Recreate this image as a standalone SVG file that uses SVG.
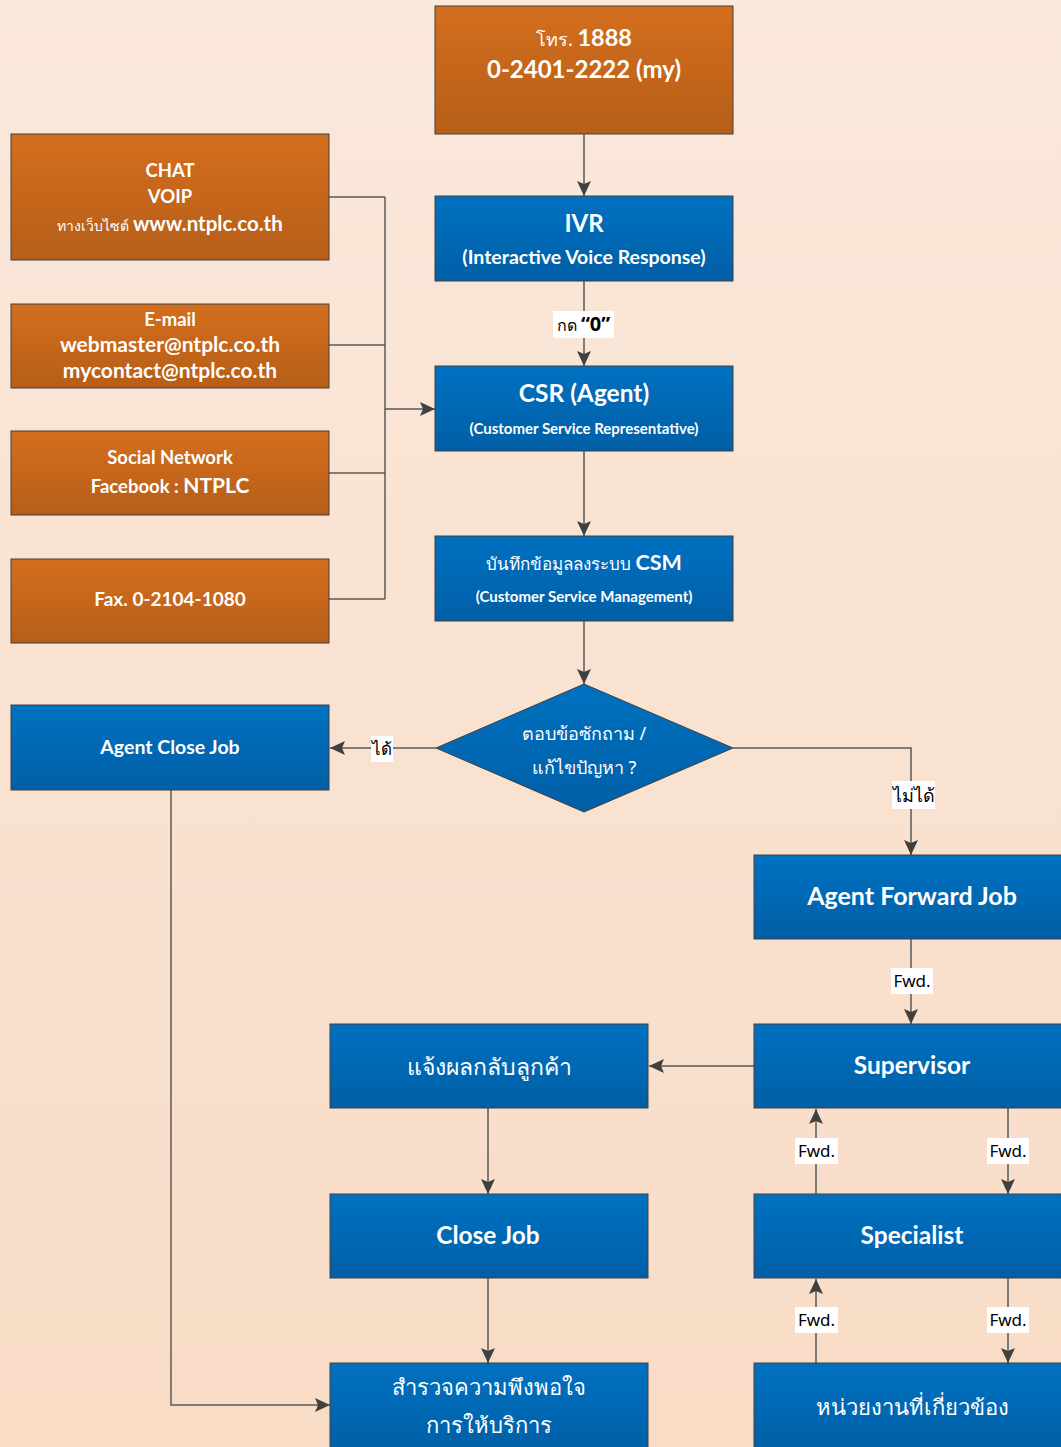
<svg xmlns="http://www.w3.org/2000/svg" width="1061" height="1447" viewBox="0 0 1061 1447">
<defs>
<linearGradient id="bg" x1="0" y1="0" x2="0" y2="1">
<stop offset="0" stop-color="#FAE8DB"/>
<stop offset="1" stop-color="#F8DCC6"/>
</linearGradient>
<linearGradient id="org" x1="0" y1="0" x2="0" y2="1">
<stop offset="0" stop-color="#D46E1E"/>
<stop offset="1" stop-color="#B65E18"/>
</linearGradient>
<linearGradient id="blu" x1="0" y1="0" x2="0" y2="1">
<stop offset="0" stop-color="#0071C1"/>
<stop offset="1" stop-color="#005FA6"/>
</linearGradient>
<marker id="arr" markerWidth="15" markerHeight="15" viewBox="0 0 15 15" refX="15" refY="7.5" orient="auto" markerUnits="userSpaceOnUse">
<path d="M0,0.5 L15,7.5 L0,14.5 L3,7.5 Z" fill="#404040"/>
</marker>
<style>
.o{fill:url(#org);stroke:#404040;stroke-width:1}
.b{fill:url(#blu);stroke:#404040;stroke-width:1}
.t{fill:#fff;font-family:Lato,"Noto Sans","Liberation Sans",sans-serif;text-anchor:middle;font-weight:bold}
.th{fill:#fff;font-family:"Noto Sans","Liberation Sans",sans-serif;text-anchor:middle;font-weight:normal}
.c{fill:none;stroke:#595959;stroke-width:1.5}
.ca{fill:none;stroke:#595959;stroke-width:1.5;marker-end:url(#arr)}
.lb{fill:#fff}
.lt{fill:#000;font-family:"Noto Sans","Liberation Sans",sans-serif;text-anchor:middle}
</style>
</defs>
<rect width="1061" height="1447" fill="url(#bg)"/>

<g id="connectors">
<path class="ca" d="M584,134 V196"/>
<path class="ca" d="M584,281 V366"/>
<path class="c" d="M329,197 H385 M329,345 H385 M329,473 H385 M329,599 H385 M385,197 V599"/>
<path class="ca" d="M385,409 H435"/>
<path class="ca" d="M584,451 V536"/>
<path class="ca" d="M584,621 V684"/>
<path class="ca" d="M436,748 H330"/>
<path class="ca" d="M733,748 H911 V855"/>
<path class="ca" d="M911,939 V1024"/>
<path class="ca" d="M754,1066 H649"/>
<path class="ca" d="M488,1108 V1194"/>
<path class="ca" d="M488,1278 V1363"/>
<path class="ca" d="M171,790 V1405 H330"/>
<path class="ca" d="M816,1194 V1109"/>
<path class="ca" d="M1008,1108 V1194"/>
<path class="ca" d="M816,1363 V1279"/>
<path class="ca" d="M1008,1278 V1363"/>

<rect class="lb" x="553" y="311" width="61" height="27"/>
<text class="lt" x="583.5" y="331" font-size="17"><tspan font-size="16">กด </tspan><tspan font-weight="bold" font-size="20">“0”</tspan></text>
<rect class="lb" x="371" y="736" width="22" height="26"/>
<text class="lt" x="382" y="755" font-size="17">ได้</text>
<rect class="lb" x="892" y="781" width="43" height="28"/>
<text class="lt" x="913.5" y="802" font-size="18">ไม่ได้</text>
<rect class="lb" x="891" y="968" width="42" height="26"/>
<text class="lt" x="912" y="987" font-size="17">Fwd.</text>
<rect class="lb" x="795" y="1138" width="43" height="26"/>
<text class="lt" x="816.5" y="1157" font-size="17">Fwd.</text>
<rect class="lb" x="987" y="1138" width="42" height="26"/>
<text class="lt" x="1008" y="1157" font-size="17">Fwd.</text>
<rect class="lb" x="795" y="1307" width="43" height="26"/>
<text class="lt" x="816.5" y="1326" font-size="17">Fwd.</text>
<rect class="lb" x="987" y="1307" width="42" height="26"/>
<text class="lt" x="1008" y="1326" font-size="17">Fwd.</text>
</g>

<g id="phone">
<rect class="o" x="435" y="6" width="298" height="128"/>
<text class="t" x="584" y="46" font-size="23.5"><tspan class="th" font-size="18" font-weight="normal">โทร.  </tspan><tspan>1888</tspan></text>
<text class="t" x="584" y="78" font-size="24">0-2401-2222 (my)</text>
</g>

<g id="chat">
<rect class="o" x="11" y="134" width="318" height="126"/>
<text class="t" x="170" y="177" font-size="18.5">CHAT</text>
<text class="t" x="170" y="203" font-size="18.5">VOIP</text>
<text class="t" x="170" y="231" font-size="20.5"><tspan font-weight="normal" font-size="14" font-family="'Noto Sans',sans-serif">ทางเว็บไซต์ </tspan><tspan>www.ntplc.co.th</tspan></text>
</g>

<g id="email">
<rect class="o" x="11" y="304" width="318" height="84"/>
<text class="t" x="170" y="326" font-size="18.5">E-mail</text>
<text class="t" x="170" y="352" font-size="21">webmaster@ntplc.co.th</text>
<text class="t" x="170" y="378" font-size="21">mycontact@ntplc.co.th</text>
</g>

<g id="social">
<rect class="o" x="11" y="431" width="318" height="84"/>
<text class="t" x="170" y="464" font-size="18.5">Social Network</text>
<text class="t" x="170" y="493" font-size="18.5">Facebook : <tspan font-size="21">NTPLC</tspan></text>
</g>

<g id="fax">
<rect class="o" x="11" y="559" width="318" height="84"/>
<text class="t" x="170" y="606" font-size="19">Fax. 0-2104-1080</text>
</g>

<g id="ivr">
<rect class="b" x="435" y="196" width="298" height="85"/>
<text class="t" x="584" y="232" font-size="24">IVR</text>
<text class="t" x="584" y="264" font-size="19.5">(Interactive Voice Response)</text>
</g>

<g id="csr">
<rect class="b" x="435" y="366" width="298" height="85"/>
<text class="t" x="584" y="402" font-size="24.5">CSR (Agent)</text>
<text class="t" x="584" y="434" font-size="15">(Customer Service Representative)</text>
</g>

<g id="csm">
<rect class="b" x="435" y="536" width="298" height="85"/>
<text class="t" x="584" y="570" font-size="21.5"><tspan class="th" font-size="17">บันทึกข้อมูลลงระบบ </tspan><tspan>CSM</tspan></text>
<text class="t" x="584" y="602" font-size="15">(Customer Service Management)</text>
</g>

<g id="decision">
<polygon class="b" points="584,684 733,748 584,812 436,748"/>
<text class="th" x="584" y="740" font-size="18">ตอบข้อซักถาม /</text>
<text class="th" x="584" y="774" font-size="18">แก้ไขปัญหา ?</text>
</g>

<g id="agent-close">
<rect class="b" x="11" y="705" width="318" height="85"/>
<text class="t" x="170" y="754" font-size="19.5">Agent Close Job</text>
</g>

<g id="agent-forward">
<rect class="b" x="754" y="855" width="312" height="84"/>
<text class="t" x="912" y="905" font-size="25">Agent Forward Job</text>
</g>

<g id="supervisor">
<rect class="b" x="754" y="1024" width="312" height="84"/>
<text class="t" x="912" y="1074" font-size="24.5">Supervisor</text>
</g>

<g id="specialist">
<rect class="b" x="754" y="1194" width="312" height="84"/>
<text class="t" x="912" y="1244" font-size="24.5">Specialist</text>
</g>

<g id="related-unit">
<rect class="b" x="754" y="1363" width="312" height="90"/>
<text class="th" x="912" y="1415" font-size="22">หน่วยงานที่เกี่ยวข้อง</text>
</g>

<g id="notify">
<rect class="b" x="330" y="1024" width="318" height="84"/>
<text class="th" x="489" y="1075" font-size="23">แจ้งผลกลับลูกค้า</text>
</g>

<g id="close-job">
<rect class="b" x="330" y="1194" width="318" height="84"/>
<text class="t" x="488" y="1244" font-size="24.5">Close Job</text>
</g>

<g id="survey">
<rect class="b" x="330" y="1363" width="318" height="90"/>
<text class="th" x="489" y="1395" font-size="22">สำรวจความพึงพอใจ</text>
<text class="th" x="489" y="1433" font-size="22">การให้บริการ</text>
</g>
</svg>
